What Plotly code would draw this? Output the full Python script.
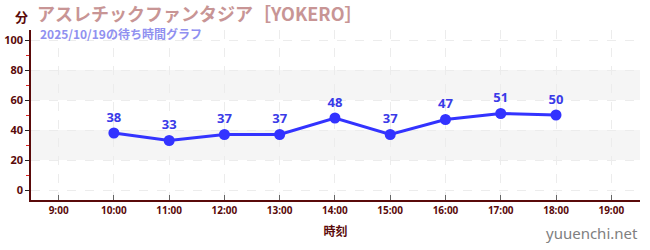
import plotly.graph_objects as go

hours = [10, 11, 12, 13, 14, 15, 16, 17, 18]
waits = [38, 33, 37, 37, 48, 37, 47, 51, 50]
tick_vals = [9, 10, 11, 12, 13, 14, 15, 16, 17, 18, 19]
tick_text = ["9:00", "10:00", "11:00", "12:00", "13:00", "14:00", "15:00", "16:00", "17:00", "18:00", "19:00"]
y_ticks = [0, 20, 40, 60, 80, 100]
bands = [(20, 40), (60, 80)]

AX = "#5a0a0a"

fig = go.Figure()
for lo, hi in bands:
    fig.add_hrect(y0=lo, y1=hi, fillcolor="#f5f5f5", line_width=0, layer="below")

fig.add_trace(go.Scatter(
    x=hours, y=waits, mode="lines+markers+text",
    line=dict(color="#3333ff", width=3),
    marker=dict(color="#3333ff", size=11),
    text=[str(v) for v in waits], textposition="top center",
    textfont=dict(family="Noto Sans", size=13, color="#3a3ae8", weight="bold"),
    cliponaxis=False, hoverinfo="skip",
))

fig.update_layout(
    width=650, height=250,
    margin=dict(l=31, r=10, t=30, b=50, autoexpand=False),
    paper_bgcolor="white", plot_bgcolor="white",
    showlegend=False,
    font=dict(family="Noto Sans", color=AX),
)
fig.update_xaxes(
    range=[8.5, 19.52], tickvals=tick_vals, ticktext=tick_text, automargin=False,
    showline=True, linecolor=AX, linewidth=1.5,
    ticks="inside", ticklen=5, tickcolor="#666666",
    tickfont=dict(family="Noto Sans", size=10, color=AX, weight="bold"),
    showgrid=True, gridcolor="#ececec", griddash="dash", gridwidth=1,
    zeroline=False,
    title=dict(text="時刻", font=dict(family="Noto Sans CJK JP", size=12, color=AX, weight="bold"), standoff=12),
)
fig.update_yaxes(
    range=[-6.67, 106.67], tickvals=y_ticks, automargin=False,
    showline=True, linecolor=AX, linewidth=1.5,
    ticks="outside", ticklen=4, tickcolor="#222222",
    tickfont=dict(family="Noto Sans", size=11, color=AX, weight="bold"),
    showgrid=True, gridcolor="#ececec", griddash="dash", gridwidth=1,
    zeroline=False,
    minor=dict(tickvals=[10, 30, 50, 70, 90], ticks="outside", ticklen=3, tickcolor="#dd2222", showgrid=False),
)

fig.add_annotation(xref="paper", yref="paper", x=-18/609, y=(200-16)/170, xanchor="left", yanchor="middle",
                   text="<b>分</b>", showarrow=False,
                   font=dict(family="Noto Sans CJK JP", size=13, color=AX))
fig.add_annotation(xref="paper", yref="paper", x=(35-31)/609, y=(200-13)/170, xanchor="left", yanchor="middle",
                   text="アスレチックファンタジア［YOKERO］", showarrow=False,
                   font=dict(family="Noto Sans CJK JP", size=18, color="#c89595", weight="bold"))
fig.add_annotation(xref="paper", yref="paper", x=(38-31)/609, y=(200-33)/170, xanchor="left", yanchor="middle",
                   text="2025/10/19の待ち時間グラフ", showarrow=False,
                   font=dict(family="Noto Sans CJK JP", size=12, color="#9090f0", weight="bold"))
fig.add_annotation(xref="paper", yref="paper", x=1.0, y=(200-233)/170, xanchor="right", yanchor="middle",
                   text="yuuenchi.net", showarrow=False,
                   font=dict(family="Noto Sans", size=15, color="#808080"))

fig.write_html("out.html")
